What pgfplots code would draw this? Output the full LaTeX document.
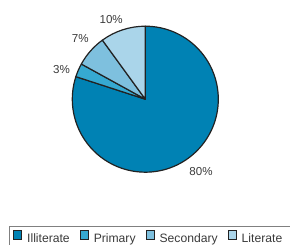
\documentclass[border=0pt]{standalone}
\usepackage{pgfplots}
\pgfplotsset{compat=1.18}
\usepackage{pgfplotstable}
\usepackage{fontspec}
\setmainfont{Liberation Sans}
\definecolor{cIll}{HTML}{0082B4}
\definecolor{cPri}{HTML}{36A9D1}
\definecolor{cSec}{HTML}{7EC0DE}
\definecolor{cLit}{HTML}{AAD5EA}
\definecolor{edge}{HTML}{222222}
\definecolor{lbl}{HTML}{3A3A3A}

% x y = pie centre; start = start angle (deg); pct = share (%); la, lr = label angle and radius
\pgfplotstableread{
x y start pct la lr
145.3 145.8 90 80 -52.4 91.3
}\tIll
\pgfplotstableread{
x y start pct la lr
145.3 145.8 162 3 160.3 89.0
}\tPri
\pgfplotstableread{
x y start pct la lr
145.3 145.8 151.2 7 137.0 89.0
}\tSec
\pgfplotstableread{
x y start pct la lr
145.3 145.8 126 10 113.1 87.0
}\tLit

\pgfplotsset{
  /pgfplots/slice colour/.initial=black,
  pie slice/.style={
    scatter, only marks, mark=*, mark size=0pt,
    visualization depends on={\thisrow{start} \as \wstart},
    visualization depends on={\thisrow{pct} \as \wpct},
    visualization depends on={\thisrow{la} \as \wla},
    visualization depends on={\thisrow{lr} \as \wlr},
    scatter/@pre marker code/.code={%
      \pgfmathsetmacro\wend{\wstart-3.6*\wpct}%
      \pgfmathtruncatemacro\wp{round(\wpct)}%
      \edef\wcol{\pgfkeysvalueof{/pgfplots/slice colour}}%
      \filldraw[fill=\wcol, draw=edge, line width=1.2bp, line join=round]
        (0,0) -- (\wstart:73bp) arc[start angle=\wstart, end angle=\wend, radius=73bp] -- cycle;
      \node[text=lbl, font=\fontsize{11.6}{13}\selectfont, inner sep=0pt, anchor=center]
        at (\wla:\wlr bp) {\wp\%};
      \begin{scope}},
    scatter/@post marker code/.code={\end{scope}},
    legend image code/.code={%
      \filldraw[#1, fill=\pgfkeysvalueof{/pgfplots/slice colour}, draw=edge, line width=0.9bp]
        (0bp,-0.3bp) rectangle (8.3bp,8bp);},
  },
}

\begin{document}
\begin{tikzpicture}[x=1bp, y=1bp]
\begin{axis}[
  x=1bp, y=1bp, xmin=0, xmax=290, ymin=0, ymax=245,
  at={(0,0)}, anchor=south west,
  hide axis, clip=false,
  legend columns=-1,
  legend style={
    at={(axis cs:13,0.8)}, anchor=south west,
    draw=none, fill=none, inner sep=0pt,
    font=\fontsize{12.2}{14}\selectfont,
    text=lbl,
    nodes={inner xsep=0pt, inner ysep=0pt},
    /tikz/every odd column/.style={column sep=4.8bp},
    /tikz/every even column/.style={column sep=10bp},
  },
]
\addplot[pie slice, slice colour=cIll] table[x=x, y=y] {\tIll};
\addlegendentry{Illiterate}
\addplot[pie slice, slice colour=cPri] table[x=x, y=y] {\tPri};
\addlegendentry{Primary}
\addplot[pie slice, slice colour=cSec] table[x=x, y=y] {\tSec};
\addlegendentry{Secondary}
\addplot[pie slice, slice colour=cLit] table[x=x, y=y] {\tLit};
\addlegendentry{Literate}
\draw[gray, line width=1bp] (axis cs:9,-20) |- (axis cs:320,18);
\end{axis}
\pgfresetboundingbox
\path (0,0) rectangle (290,245);
\end{tikzpicture}
\end{document}
